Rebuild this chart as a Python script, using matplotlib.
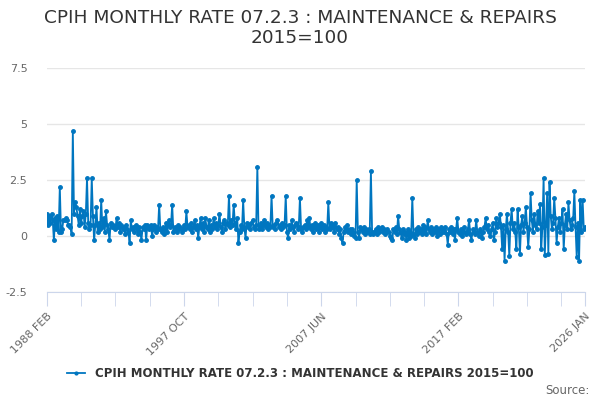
import numpy as np
import matplotlib
matplotlib.use("Agg")
import matplotlib.pyplot as plt

# monthly rate, Feb 1988 .. Jan 2026 (one row per 12 months)
rate_rows = [
	[1.0, 0.5, 0.9, 0.6, 1.0, 0.7, -0.2, 0.8, 0.3, 0.9, 0.2, 2.2],
	[0.2, 0.3, 0.7, 0.7, 0.8, 0.7, 0.5, 0.5, 0.4, 0.1, 4.7, 1.0],
	[1.5, 1.3, 0.9, 0.5, 1.2, 0.6, 0.9, 1.1, 0.4, 1.0, 2.6, 0.6],
	[0.3, 0.5, 2.6, 0.9, -0.2, 0.5, 1.3, 0.2, 0.6, 0.3, 1.6, 0.4],
	[0.8, 0.2, 1.1, 0.5, 0.3, -0.2, 0.6, 0.4, 0.5, 0.4, 0.3, 0.8],
	[0.4, 0.6, 0.2, 0.5, 0.3, 0.4, 0.1, 0.5, 0.3, 0.2, -0.3, 0.7],
	[0.3, 0.4, 0.2, 0.5, 0.3, 0.1, 0.4, 0.2, -0.2, 0.4, 0.3, 0.5],
	[-0.2, 0.5, 0.3, 0.4, 0.5, 0.0, 0.3, 0.5, 0.2, 0.4, 0.3, 1.4],
	[0.3, 0.2, 0.4, 0.1, 0.3, 0.6, 0.2, 0.7, 0.4, 0.5, 1.4, 0.2],
	[0.4, 0.3, 0.2, 0.5, 0.3, 0.4, 0.2, 0.3, 0.5, 0.3, 1.1, 0.4],
	[0.5, 0.3, 0.6, 0.2, 0.4, 0.7, 0.3, 0.5, -0.1, 0.4, 0.8, 0.3],
	[0.6, 0.2, 0.8, 0.4, 0.3, 0.7, 0.2, 0.5, 0.3, 0.8, 0.4, 0.6],
	[0.3, 0.5, 1.0, 0.4, 0.2, 0.6, 0.7, 0.3, 0.6, 0.5, 1.8, 0.4],
	[0.7, 0.5, 1.4, 0.6, 0.3, 0.8, -0.3, 0.2, 0.5, 0.3, 1.6, 0.4],
	[-0.1, 0.6, 0.4, 0.5, 0.3, 0.6, 0.7, 0.4, 0.3, 0.5, 3.1, 0.3],
	[0.4, 0.6, 0.3, 0.5, 0.7, 0.4, 0.6, 0.3, 0.5, 0.4, 1.8, 0.4],
	[0.5, 0.3, 0.6, 0.7, 0.4, 0.5, 0.3, 0.6, 0.4, 0.5, 1.8, 0.2],
	[-0.1, 0.5, 0.3, 0.7, 0.4, 0.2, 0.5, 0.6, 0.3, 0.4, 1.7, 0.3],
	[0.2, 0.4, 0.5, 0.3, 0.7, 0.4, 0.8, 0.3, 0.5, 0.2, 0.4, 0.6],
	[0.3, 0.5, 0.2, 0.4, 0.6, 0.3, 0.5, 0.2, 0.4, 0.3, 1.5, 0.3],
	[0.6, 0.4, 0.5, 0.2, 0.6, 0.3, 0.4, 0.1, 0.3, -0.1, -0.3, 0.2],
	[0.4, 0.3, 0.5, 0.2, 0.3, 0.1, 0.3, 0.2, 0.0, -0.1, 2.5, 0.2],
	[-0.1, 0.4, 0.3, 0.2, 0.4, 0.1, 0.3, 0.2, 0.3, 0.1, 2.9, 0.2],
	[0.1, 0.2, 0.3, 0.1, 0.4, 0.2, 0.3, 0.4, 0.2, 0.3, 0.1, 0.2],
	[0.3, 0.2, 0.0, -0.1, -0.2, 0.3, 0.2, 0.4, 0.1, 0.9, 0.3, 0.2],
	[-0.1, 0.3, 0.1, 0.2, -0.2, 0.3, -0.1, 0.2, 0.0, 1.7, 0.1, -0.1],
	[0.3, 0.1, 0.4, 0.2, 0.3, 0.1, 0.5, 0.2, 0.4, 0.1, 0.7, 0.3],
	[0.2, 0.4, 0.1, 0.3, 0.2, 0.4, 0.0, 0.3, 0.1, 0.4, 0.2, 0.3],
	[0.2, 0.4, 0.1, -0.4, 0.3, 0.2, 0.4, 0.1, 0.3, -0.2, 0.3, 0.8],
	[0.2, 0.1, 0.3, 0.0, 0.2, 0.4, 0.1, 0.2, 0.3, 0.7, 0.1, -0.2],
	[0.3, 0.2, 0.1, 0.7, 0.2, 0.0, 0.3, 0.2, -0.1, 0.2, 0.4, 0.8],
	[0.3, 0.5, 0.2, 0.0, 0.3, 0.6, -0.2, 0.2, 0.8, 0.4, 0.6, 1.0],
	[0.4, -0.6, 0.5, -1.1, 0.3, 1.0, 0.2, -0.9, 0.6, 1.2, 0.3, 0.6],
	[0.2, -0.6, 1.2, 0.4, -0.8, 0.5, 0.9, 0.2, 0.6, 1.3, 0.4, -0.5],
	[0.3, 1.9, 0.7, 0.2, 1.0, 0.5, 0.3, 1.1, 0.6, 1.45, -0.6, 0.4],
	[2.6, -0.85, 0.5, 1.9, -0.8, 2.4, 0.9, 0.3, 0.6, 1.7, 0.8, -0.3],
	[0.4, 0.8, 0.2, 0.6, 1.2, -0.6, 0.5, 1.0, 0.3, 1.5, 0.7, 0.3],
	[0.5, 0.8, 2.0, 0.4, -0.95, 0.6, -1.1, 1.6, 0.2, 1.6, 0.3, 0.4],
]
rate = [v for row in rate_rows for v in row]

label_pos = [0, 116, 232, 348, 455]
label_text = ["1988 FEB", "1997 OCT", "2007 JUN", "2017 FEB", "2026 JAN"]
series_name = "CPIH MONTHLY RATE 07.2.3 : MAINTENANCE & REPAIRS 2015=100"

blue = "#0076c0"

fig = plt.figure(figsize=(6, 4), dpi=100)
ax = fig.add_axes([0.078, 0.27, 0.897, 0.56])

x = np.arange(len(rate))
ax.plot(x, rate, color=blue, lw=1.3, marker="o", ms=2.5, label=series_name)

ax.set_ylim(-2.5, 7.5)
ax.set_yticks([-2.5, 0, 2.5, 5, 7.5])
ax.set_yticklabels(["-2.5", "0", "2.5", "5", "7.5"])
ax.set_xlim(0, len(rate) - 1)
ax.grid(axis="y", color="#e6e6e6", lw=1)
ax.set_axisbelow(True)
for s in ["top", "right", "left"]:
	ax.spines[s].set_visible(False)
ax.spines["bottom"].set_color("#ccd6eb")

ax.set_xticks(label_pos)
ax.set_xticklabels(label_text, rotation=45, ha="right", rotation_mode="anchor")
ax.set_xticks([p for p in range(29, 450, 29) if p not in label_pos], minor=True)
ax.tick_params(axis="x", which="both", length=10, color="#ccd6eb", labelsize=8, labelcolor="#666666", pad=4)
ax.tick_params(axis="y", length=0, labelsize=8, labelcolor="#666666", pad=14)

fig.suptitle("CPIH MONTHLY RATE 07.2.3 : MAINTENANCE & REPAIRS\n2015=100",
	y=0.977, fontsize=13.3, color="#333333", linespacing=1.1)

fig.legend(loc="center", bbox_to_anchor=(0.5, 0.067), frameon=False,
	prop={"size": 8.5, "weight": "bold"}, labelcolor="#333333", handlelength=1.6, markerscale=0.8)
fig.text(0.983, 0.015, "Source:", ha="right", fontsize=8.5, color="#666666")

fig.savefig("out.png", dpi=100)
